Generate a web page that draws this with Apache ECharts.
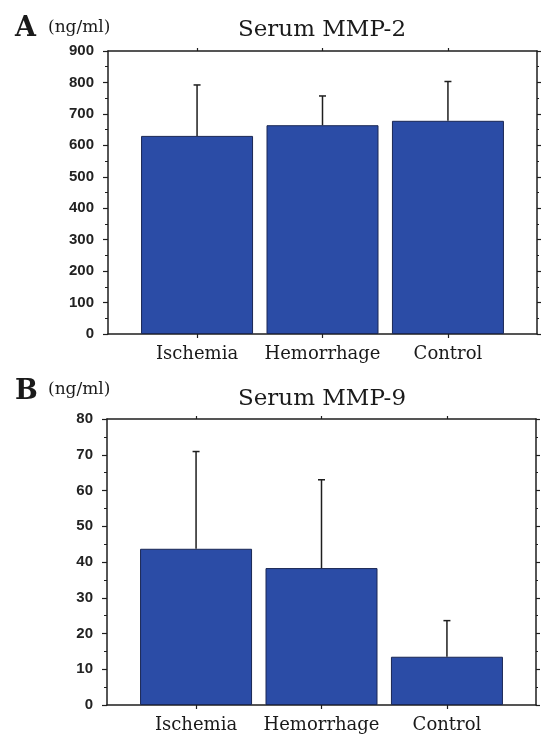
<!DOCTYPE html>
<html>
<head>
<meta charset="utf-8">
<script src="https://cdn.jsdelivr.net/npm/echarts@6/dist/echarts.min.js"></script>
<style>
html,body{margin:0;padding:0;background:#fff;}
#chart{width:548px;height:738px;}
</style>
</head>
<body>
<div id="chart"></div>
<script>
const categories = ['Ischemia', 'Hemorrhage', 'Control'];
const mmp2Mean = [630, 664, 678];
const mmp2SD = [162, 93, 125];
const mmp9Mean = [43.7, 38.3, 13.5];
const mmp9SD = [27.2, 24.7, 10.1];
const mmp2Axis = { max: 900, interval: 100 };
const mmp9Axis = { max: 80, interval: 10 };

const ink = '#1e1e1e';
const barColor = '#2b4ca6';
const catIdx = categories.map((c, i) => i);

function xAxes(gridIndex) {
  return [{
    type: 'value', gridIndex, position: 'bottom', min: -0.71, max: 2.71,
    splitLine: { show: false },
    axisLine: { onZero: false, lineStyle: { color: ink, width: 1.5 } },
    axisTick: { customValues: catIdx, length: 4, lineStyle: { color: ink, width: 1.2 } },
    axisLabel: {
      customValues: catIdx, margin: 11,
      formatter: v => categories[Math.round(v)],
      fontFamily: 'DejaVu Serif', fontSize: 18, color: '#1a1a1a'
    }
  }, {
    type: 'value', gridIndex, position: 'top', min: -0.71, max: 2.71,
    splitLine: { show: false },
    axisLine: { onZero: false, lineStyle: { color: ink, width: 1.5 } },
    axisTick: { customValues: catIdx, length: 3, lineStyle: { color: ink, width: 1.2 } },
    axisLabel: { show: false }
  }];
}

function yAxes(gridIndex, ax) {
  return [{
    type: 'value', gridIndex, position: 'left', min: 0, max: ax.max, interval: ax.interval,
    splitLine: { show: false },
    axisLine: { show: true, onZero: false, lineStyle: { color: ink, width: 1.5 } },
    axisTick: { show: true, length: 5, lineStyle: { color: ink, width: 1.2 } },
    minorTick: { show: true, splitNumber: 2, length: 3, lineStyle: { color: ink, width: 1 } },
    axisLabel: {
      margin: 14, fontFamily: 'Liberation Sans', fontWeight: 'bold', fontSize: 15, color: '#222'
    }
  }, {
    type: 'value', gridIndex, position: 'right', min: 0, max: ax.max, interval: ax.interval,
    splitLine: { show: false },
    axisLine: { show: true, onZero: false, lineStyle: { color: ink, width: 1.5 } },
    axisTick: { show: true, length: 4, lineStyle: { color: ink, width: 1.2 } },
    minorTick: { show: true, splitNumber: 2, length: 2, lineStyle: { color: ink, width: 1 } },
    axisLabel: { show: false }
  }];
}

function errRender(params, api) {
  const x = api.value(0);
  const lo = api.coord([x, api.value(1)]);
  const hi = api.coord([x, api.value(2)]);
  const cap = 3.5;
  return {
    type: 'group',
    children: [
      { type: 'line', shape: { x1: lo[0], y1: lo[1], x2: hi[0], y2: hi[1] }, style: { stroke: ink, lineWidth: 1.5 } },
      { type: 'line', shape: { x1: hi[0] - cap, y1: hi[1], x2: hi[0] + cap, y2: hi[1] }, style: { stroke: ink, lineWidth: 1.5 } }
    ]
  };
}

function seriesFor(k, mean, sd) {
  return [{
    type: 'bar', xAxisIndex: 2 * k, yAxisIndex: 2 * k,
    data: mean.map((v, i) => [i, v]), barWidth: 112,
    itemStyle: { color: barColor, borderColor: '#1a2754', borderWidth: 1 },
    silent: true, z: 2
  }, {
    type: 'custom', xAxisIndex: 2 * k, yAxisIndex: 2 * k,
    data: mean.map((v, i) => [i, v, v + sd[i]]),
    encode: { x: 0, y: [1, 2] },
    renderItem: errRender, silent: true, z: 3
  }];
}

const chart = echarts.init(document.getElementById('chart'));
chart.setOption({
  animation: false,
  backgroundColor: '#fff',
  grid: [
    { left: 108, right: 11, top: 51, height: 283 },
    { left: 107, right: 12, top: 419, height: 286 }
  ],
  xAxis: [...xAxes(0), ...xAxes(1)],
  yAxis: [...yAxes(0, mmp2Axis), ...yAxes(1, mmp9Axis)],
  series: [...seriesFor(0, mmp2Mean, mmp2SD), ...seriesFor(1, mmp9Mean, mmp9SD)],
  graphic: [
    { type: 'text', left: 15, top: 15, style: { text: 'A', font: 'bold 27px "DejaVu Serif"', fill: '#1a1a1a' } },
    { type: 'text', left: 48, top: 19, style: { text: '(ng/ml)', font: '17px "DejaVu Serif"', fill: '#1a1a1a' } },
    { type: 'text', x: 322, y: 30, style: { text: 'Serum MMP-2', font: '23px "DejaVu Serif"', fill: '#1a1a1a', textAlign: 'center', textVerticalAlign: 'middle' } },
    { type: 'text', left: 15, top: 378, style: { text: 'B', font: 'bold 27px "DejaVu Serif"', fill: '#1a1a1a' } },
    { type: 'text', left: 48, top: 381, style: { text: '(ng/ml)', font: '17px "DejaVu Serif"', fill: '#1a1a1a' } },
    { type: 'text', x: 322, y: 399, style: { text: 'Serum MMP-9', font: '23px "DejaVu Serif"', fill: '#1a1a1a', textAlign: 'center', textVerticalAlign: 'middle' } }
  ]
});
</script>
</body>
</html>
